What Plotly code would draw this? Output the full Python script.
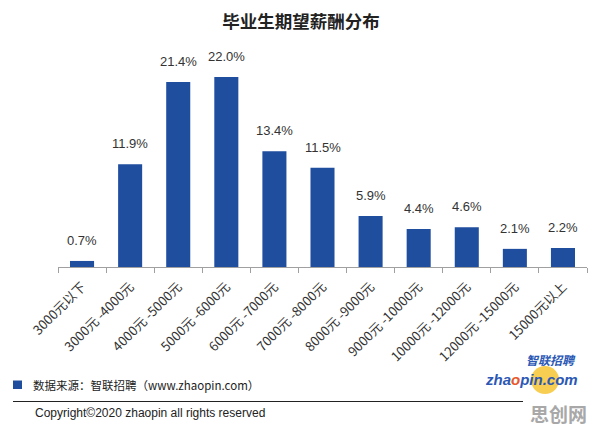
import plotly.graph_objects as go

categories = ["3000元以下", "3000元 -4000元", "4000元 -5000元", "5000元 -6000元", "6000元 -7000元",
              "7000元 -8000元", "8000元 -9000元", "9000元 -10000元", "10000元 -12000元",
              "12000元 -15000元", "15000元以上"]
values = [0.7, 11.9, 21.4, 22.0, 13.4, 11.5, 5.9, 4.4, 4.6, 2.1, 2.2]
value_labels = [f"{v:.1f}%" for v in values]

BLUE = "#1F4E9F"
CJK = "Noto Sans CJK SC"

fig = go.Figure()
fig.add_trace(go.Bar(x=categories, y=values, marker_color=BLUE, width=0.5,
                     marker_line_width=0, hoverinfo="skip"))

for c, v, t in zip(categories, values, value_labels):
    fig.add_annotation(x=c, y=v, text=t, showarrow=False, yanchor="bottom",
                       yshift=11, font=dict(family="Liberation Sans, Arial", size=13, color="#333"))

fig.update_layout(
    width=596, height=429,
    margin=dict(l=58, r=9, t=51, b=162),
    paper_bgcolor="white", plot_bgcolor="white",
    showlegend=False,
    title=dict(text="<b>毕业生期望薪酬分布</b>", x=0.505, xanchor="center", y=0.95, yanchor="middle",
               font=dict(family=CJK, size=17.5, color="#222")),
    bargap=0.5,
)
fig.update_xaxes(type="category", showline=True, linecolor="#A0A0A0", linewidth=1,
                 ticks="outside", tickson="boundaries", ticklen=5, tickcolor="#A0A0A0",
                 tickangle=-45, ticklabelstandoff=6,
                 tickfont=dict(family="Liberation Sans Narrow, " + CJK, size=13, color="#333"),
                 showgrid=False, range=[-0.5, 10.5])
fig.update_yaxes(visible=False, range=[0, 25], showgrid=False)

# footer
fig.add_shape(type="rect", xref="paper", yref="paper",
              x0=(13-58)/529, x1=(22-58)/529, y0=(267-380.5)/216, y1=(267-389)/216,
              fillcolor=BLUE, line_width=0)
fig.add_annotation(xref="paper", yref="paper", x=(31-58)/529, y=(267-385)/216,
                   xanchor="left", yanchor="middle", showarrow=False,
                   text="数据来源：智联招聘（www.zhaopin.com）",
                   font=dict(family=CJK, size=11.5, color="#222"))
fig.add_shape(type="line", xref="paper", yref="paper",
              x0=(13-58)/529, x1=(523-58)/529, y0=(267-401.5)/216, y1=(267-401.5)/216,
              line=dict(color="#222", width=1))
fig.add_annotation(xref="paper", yref="paper", x=(33-58)/529, y=(267-413)/216,
                   xanchor="left", yanchor="middle", showarrow=False,
                   text="Copyright©2020 zhaopin all rights reserved",
                   font=dict(family="Liberation Sans Narrow, Liberation Sans, Arial", size=12, color="#222"))

# logo
fig.add_shape(type="circle", xref="paper", yref="paper",
              x0=(531-58)/529, x1=(559-58)/529, y0=(267-366)/216, y1=(267-394)/216,
              fillcolor="#F7C634", line_width=0, opacity=0.85)
fig.add_annotation(xref="paper", yref="paper", x=(578-58)/529, y=(267-359)/216,
                   xanchor="right", yanchor="middle", showarrow=False,
                   text="<b><i>智联招聘</i></b>",
                   font=dict(family=CJK, size=12, color="#2B58B5"))
fig.add_annotation(xref="paper", yref="paper", x=(580-58)/529, y=(267-379)/216,
                   xanchor="right", yanchor="middle", showarrow=False,
                   text="<b><i>zha<span style='color:#E8582A'>o</span>pin.com</i></b>",
                   font=dict(family="Liberation Sans, Arial", size=15, color="#2B58B5"))
fig.add_annotation(xref="paper", yref="paper", x=(589-58)/529, y=(267-413)/216,
                   xanchor="right", yanchor="middle", showarrow=False,
                   text="<b>思创网</b>",
                   font=dict(family=CJK, size=19, color="#A8A8A8"))

fig.write_html("out.html")
